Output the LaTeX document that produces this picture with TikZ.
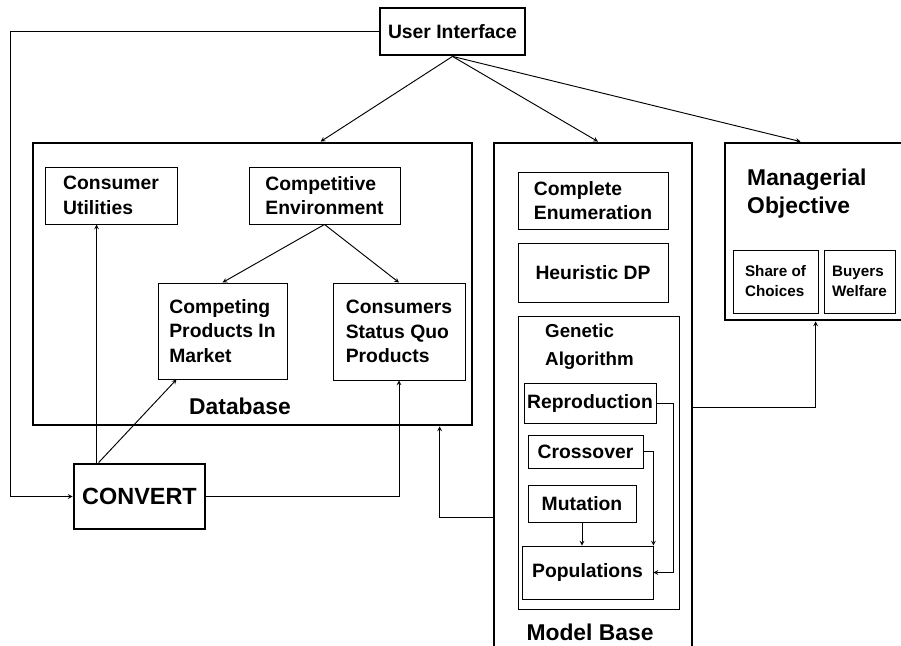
\documentclass[tikz,border=0pt]{standalone}
\usepackage{fontspec}
\setmainfont{Liberation Sans}
\usetikzlibrary{arrows}
\usetikzlibrary{calc}

\tikzset{
	box/.style={draw, rectangle, line width=0.8pt, inner sep=2pt, align=left,
		font=\bfseries\fontsize{16.5}{21}\selectfont},
	bigbox/.style={draw, rectangle, line width=2.4pt, inner sep=0pt},
	lbl/.style={inner sep=0pt, font=\bfseries\fontsize{19.5}{24}\selectfont},
	small/.style={box, font=\bfseries\fontsize{13}{17}\selectfont},
}

\begin{document}
\begin{tikzpicture}[>=stealth, x=0.3mm, y=-0.3mm]
	\clip (0,0) rectangle (901,646);
	% User Interface
	% --------------
	\node[box, line width=2.4pt, minimum width=43.5mm, minimum height=14.1mm]
		(UI) at (452.5,31.5) {User Interface};

	% Database
	% --------
	\node[bigbox, minimum width=131.7mm, minimum height=84.6mm] (DB) at (252.5,284) {};
	\node[box, minimum width=39.6mm, minimum height=17.1mm] (CU) at (111,195.5) {Consumer\\Utilities};
	\node[box, minimum width=45.3mm, minimum height=17.1mm] (CE) at (324.5,195.5) {Competitive\\Environment};
	\node[box, minimum width=38.7mm, minimum height=28.8mm] (CP) at (222.5,331) {Competing\\Products In\\Market};
	\node[box, minimum width=39.6mm, minimum height=29.1mm] (CS) at (399,331.5) {Consumers\\Status Quo\\Products};
	\node[lbl] (DBlbl) at (240,406) {Database};

	% CONVERT
	\node[box, line width=2.4pt, minimum width=39.3mm, minimum height=19.5mm,
		font=\bfseries\fontsize{20}{24}\selectfont] (CONV) at (139.5,496.5) {CONVERT};

	% Model Base
	% ----------
	\node[bigbox, minimum width=59.4mm, minimum height=153.6mm] (MB) at (593,399) {};
	\node[box, minimum width=45mm, minimum height=17.1mm] (CEn) at (593,200.5) {Complete\\Enumeration};
	\node[box, minimum width=45mm, minimum height=17.7mm] (HD) at (593,272.5) {Heuristic DP};
	\node[box, minimum width=48.3mm, minimum height=87.9mm] (GA) at (598.5,462.5) {};
	\node[inner sep=0pt, anchor=west, align=left, font=\bfseries\fontsize{16}{23.8}\selectfont]
		(GAlbl) at (545,347) {Genetic\\Algorithm};
	\node[box, minimum width=39.6mm, minimum height=12mm] (RE) at (590,403) {Reproduction};
	\node[box, minimum width=34.5mm, minimum height=9.9mm] (CR) at (585.5,451.5) {Crossover};
	\node[box, minimum width=32.4mm, minimum height=11.1mm] (MU) at (582,503.5) {Mutation};
	\node[box, minimum width=39.3mm, minimum height=15.9mm] (PO) at (587.5,572.5) {Populations};
	\node[lbl] (MBlbl) at (590,632) {Model Base};

	% Managerial Objective
	% --------------------
	\node[bigbox, minimum width=54mm, minimum height=53.1mm] (MO) at (815,231.5) {};
	\node[lbl, anchor=west, align=left] (MOlbl) at (747,194) {Managerial\\Objective};
	\node[small, minimum width=25.5mm, minimum height=18.9mm] (SC) at (775.5,281.5) {Share of\\Choices};
	\node[small, minimum width=21.3mm, minimum height=18.9mm] (BW) at (859.5,281.5) {Buyers\\Welfare};

	% connectors
	\coordinate (lft) at (10,31.5);
	\coordinate (cu1) at ($(CONV.north west)+(24,0)$);
	\coordinate (cp1) at ($(CONV.north west)+(26,0)$);
	\coordinate (mbo) at ($(MB.north west)+(0,376)$);
	\coordinate (mbr) at ($(MB.north east)+(0,266)$);
	\draw [->, line width=0.8pt] (UI.west) -- (lft) |- (CONV.west);
	\draw [->, line width=0.8pt] (UI.south) -- ($(DB.north west)+(289,0)$);
	\draw [->, line width=0.8pt] (UI.south) -- ($(MB.north)+(5,0)$);
	\draw [->, line width=0.8pt] (UI.south) -- ($(MO.north west)+(77,0)$);
	\draw [->, line width=0.8pt] (CE.south) -- (CP.north);
	\draw [->, line width=0.8pt] (CE.south) -- (CS.north);
	\draw [->, line width=0.8pt] (cu1) -- (cu1 |- CU.south);
	\draw [->, line width=0.8pt] (cp1) -- ($(CP.south west)+(19,0)$);
	\draw [->, line width=0.8pt] (CONV.east) -| (CS.south);
	\draw [->, line width=0.8pt] (mbo) -| ($(DB.south west)+(408,0)$);
	\draw [->, line width=0.8pt] (mbr) -| ($(MO.south west)+(92,0)$);
	\draw [->, line width=0.8pt] (MU.south) -- (MU.south |- PO.north);
	\draw [->, line width=0.8pt] (CR.east) -| (PO.north east);
	\draw [->, line width=0.8pt] (RE.east) -- ++(17,0) |- (PO.east);
\end{tikzpicture}
\end{document}
